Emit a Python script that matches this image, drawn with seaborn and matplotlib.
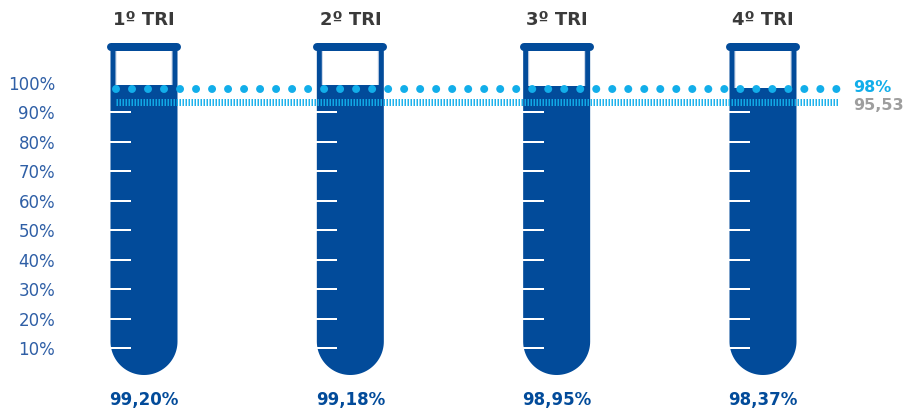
import numpy as np
import pandas as pd
import matplotlib
matplotlib.use("Agg")
import matplotlib.pyplot as plt
import matplotlib.transforms as mtransforms
from matplotlib.path import Path
from matplotlib.patches import PathPatch
import seaborn as sns

# ---- data ----
categories = ["1º TRI", "2º TRI", "3º TRI", "4º TRI"]
values = [99.20, 99.18, 98.95, 98.37]
value_labels = ["99,20%", "99,18%", "98,95%", "98,37%"]
target_value = 98
target_label = "98%"
avg_value = 95.53
avg_label = "95,53"
ytick_values = [10, 20, 30, 40, 50, 60, 70, 80, 90, 100]
ytick_labels = ["10%", "20%", "30%", "40%", "50%", "60%", "70%", "80%", "90%", "100%"]
scale_marks = [10, 20, 30, 40, 50, 60, 70, 80, 90]

# ---- style ----
DARK = "#024B9A"
CYAN = "#12AEEA"
GREY = "#9E9E9E"
TICK_BLUE = "#2F5FA6"
TITLE = "#3A3A3A"

sns.set_theme(style="white")
plt.rcParams["font.family"] = ["DejaVu Sans"]

W, H, DPI = 904, 411, 100
fig = plt.figure(figsize=(W / DPI, H / DPI), dpi=DPI)

# pixel layout -> data mapping
px_per_x = 206.33          # pixels per category step
x0_px = 144                # pixel of first category
px_per_y = 2.948           # pixels per percent
y0_px = 377.5              # pixel row of 0%
ax_left_px = 60

ax = fig.add_axes([ax_left_px / W, 0, 1 - ax_left_px / W, 1])
df = pd.DataFrame({"cat": categories, "val": values})

def px2x(px):
    return (px - x0_px) / px_per_x

def px2y(py):
    return (y0_px - py) / px_per_y

# tube geometry (in data units)
hw = 31 / px_per_x            # half width of wall path
rv = 31 / px_per_y            # vertical radius of bottom
bottom_val = px2y(372.5)
arc_c = bottom_val + rv
top_val = px2y(47)
wall_lw = 5 * 72 / DPI

def tube_path(cx, hwid, rvert, closed=False):
    th = np.linspace(np.pi, 2 * np.pi, 60)
    xs = [cx - hwid] + list(cx + hwid * np.cos(th)) + [cx + hwid]
    ys = [top_val] + list(arc_c + rvert * np.sin(th)) + [top_val]
    verts = list(zip(xs, ys))
    if closed:
        verts.append(verts[0])
        codes = [Path.MOVETO] + [Path.LINETO] * (len(verts) - 2) + [Path.CLOSEPOLY]
    else:
        codes = [Path.MOVETO] + [Path.LINETO] * (len(verts) - 1)
    return Path(verts, codes)

# fills via seaborn
sns.barplot(data=df, x="cat", y="val", color=DARK, width=2 * 34 / px_per_x,
            saturation=1, ax=ax, zorder=2, edgecolor="none")

bars = list(ax.patches)
for i, cx in enumerate(range(len(categories))):
    face = PathPatch(tube_path(cx, hw, rv, closed=True), facecolor="white",
                     edgecolor="none", zorder=1, transform=ax.transData)
    ax.add_patch(face)
    inner = PathPatch(tube_path(cx, hw - 3 / px_per_x, rv - 3 / px_per_y),
                      facecolor="none", edgecolor="#C9D5E8", lw=0.8, zorder=1.5,
                      transform=ax.transData)
    ax.add_patch(inner)
    clip = PathPatch(tube_path(cx, hw, rv, closed=True), transform=ax.transData,
                     facecolor="none", edgecolor="none")
    ax.add_patch(clip)
    bars[i].set_clip_path(clip)
    wall = PathPatch(tube_path(cx, hw, rv), facecolor="none", edgecolor=DARK,
                     lw=wall_lw, zorder=3, transform=ax.transData)
    ax.add_patch(wall)
    ax.plot([cx - 33 / px_per_x, cx + 33 / px_per_x], [top_val, top_val],
            color=DARK, lw=8 * 72 / DPI, solid_capstyle="round", zorder=3.5)
    ax.hlines(scale_marks, cx - 34 / px_per_x, cx - 13 / px_per_x,
              color="white", lw=2 * 72 / DPI, zorder=4)
    ax.text(cx, px2y(20), categories[i], ha="center", va="center",
            fontsize=13, fontweight="bold", color=TITLE)
    ax.text(cx, px2y(400), value_labels[i], ha="center", va="center",
            fontsize=12, fontweight="bold", color=DARK)

# reference lines
line_x = [px2x(116), px2x(838)]
stripe_lw = 7 * 72 / DPI
off = mtransforms.offset_copy(ax.transData, fig=fig, x=0, y=-6, units="dots")
ax.plot(line_x, [avg_value, avg_value], color=CYAN, lw=stripe_lw,
        linestyle=(0, (1.5 * 72 / DPI / stripe_lw, 1.5 * 72 / DPI / stripe_lw)),
        dash_capstyle="butt", zorder=5, alpha=0.95, transform=off)
dot_lw = 8 * 72 / DPI
ax.plot(line_x, [target_value, target_value], color=CYAN, lw=dot_lw,
        linestyle=(0, (0.001, 2.0)), dash_capstyle="round", zorder=6)

off_up = mtransforms.offset_copy(ax.transData, fig=fig, x=0, y=1, units="dots")
off_dn = mtransforms.offset_copy(ax.transData, fig=fig, x=0, y=-10, units="dots")
ax.text(px2x(853), target_value, target_label, ha="left", va="center",
        fontsize=11.5, fontweight="bold", color=CYAN, transform=off_up)
ax.text(px2x(853), avg_value, avg_label, ha="left", va="center",
        fontsize=11.5, fontweight="bold", color=GREY, transform=off_dn)

# axes
ax.set_xlim(px2x(ax_left_px), px2x(W))
ax.set_ylim(px2y(H), px2y(0))
ax.set_yticks(ytick_values)
ax.set_yticklabels(ytick_labels, color=TICK_BLUE, fontsize=12)
ax.tick_params(axis="y", length=0, pad=5 * 72 / DPI)
ax.set_xticks([])
ax.set_xlabel("")
ax.set_ylabel("")
for s in ax.spines.values():
    s.set_visible(False)
ax.patch.set_alpha(0)

fig.savefig("out.png", dpi=DPI)
